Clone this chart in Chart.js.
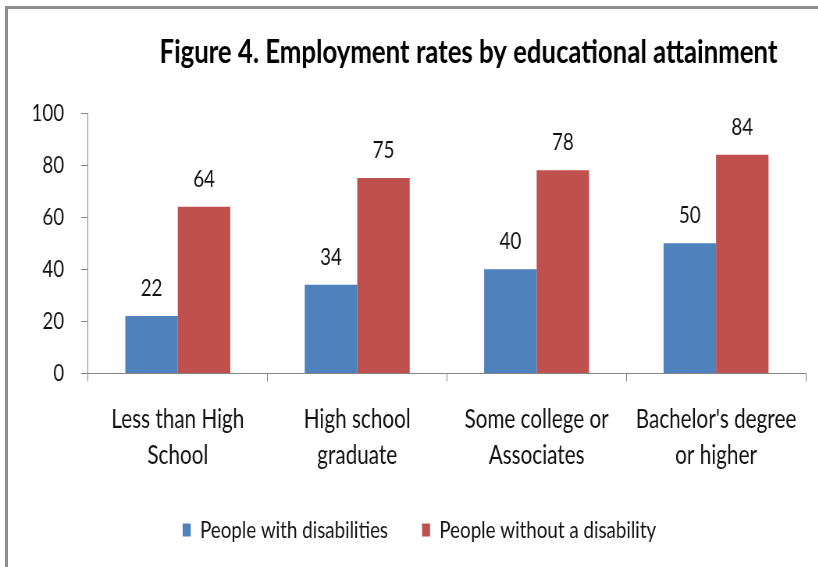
<!DOCTYPE html>
<html>
<head>
  <title>Employment rates by educational attainment</title>
  <script src="https://cdn.jsdelivr.net/npm/chart.js"></script>
  <style>
    html, body { margin: 0; padding: 0; background: #fff; overflow: hidden; }
    .frame { position: absolute; left: 5px; top: 6px; width: 900px; height: 700px; border: 3px solid #8f8f8f; }
    /* the original is a horizontally squashed Excel chart, so draw it wide and squeeze it */
    .wrap { position: absolute; left: 0; top: 0; height: 567px; transform-origin: 0 0; }
  </style>
</head>
<body>

<div class="frame"></div>
<div class="wrap" id="wrap"><canvas id="chart"></canvas></div>

<script>
const categories = [["Less than High", "School"], ["High school", "graduate"], ["Some college or", "Associates"], ["Bachelor's degree", "or higher"]];
const withDisab = [22, 34, 40, 50];
const withoutDisab = [64, 75, 78, 84];
const seriesNames = ["People with disabilities", "People without a disability"];
const yTicks = [0, 20, 40, 60, 80, 100];
const titleText = "Figure 4. Employment rates by educational attainment";

const SQ = 0.78;              // horizontal squeeze
const W = 818 / SQ;           // internal canvas width
const FONT = "Lato, 'Open Sans', sans-serif";
const AXIS = "#868686";

const wrap = document.getElementById("wrap");
wrap.style.width = W + "px";
wrap.style.transform = "scaleX(" + SQ + ")";

const titlePlugin = {
  id: "titleText",
  afterDraw(chart) {
    const ctx = chart.ctx;
    ctx.save();
    ctx.font = "bold 33px " + FONT;
    ctx.fillStyle = "#000";
    ctx.textAlign = "center";
    ctx.textBaseline = "alphabetic";
    ctx.fillText(titleText, 468 / SQ, 63);
    ctx.restore();
  }
};

const valueLabels = {
  id: "valueLabels",
  afterDatasetsDraw(chart) {
    const ctx = chart.ctx;
    ctx.save();
    ctx.font = "24px " + FONT;
    ctx.fillStyle = "#111";
    ctx.textAlign = "center";
    ctx.textBaseline = "alphabetic";
    chart.data.datasets.forEach((ds, i) => {
      chart.getDatasetMeta(i).data.forEach((bar, j) => {
        ctx.fillText(ds.data[j], bar.x, bar.y - 20);
      });
    });
    ctx.restore();
  }
};

new Chart(document.getElementById("chart"), {
  type: "bar",
  data: {
    labels: categories,
    datasets: [
      { label: seriesNames[0], data: withDisab, backgroundColor: "#4F81BD" },
      { label: seriesNames[1], data: withoutDisab, backgroundColor: "#C0504D" }
    ]
  },
  options: {
    responsive: true,
    maintainAspectRatio: false,
    animation: false,
    categoryPercentage: 0.585,
    barPercentage: 1.0,
    layout: { padding: { left: 33 / SQ, right: 13 / SQ, top: 113, bottom: 15 } },
    plugins: {
      title: { display: false },
      tooltip: { enabled: false },
      legend: {
        position: "bottom",
        labels: {
          boxWidth: 8 / SQ, boxHeight: 13, padding: 34 / SQ,
          color: "#111",
          font: { family: FONT, size: 24 }
        }
      }
    },
    scales: {
      x: {
        grid: { drawOnChartArea: false, color: AXIS, tickLength: 8, offset: true },
        border: { color: AXIS, width: 1 },
        ticks: { color: "#111", padding: 20, autoSkip: false, maxRotation: 0, font: { family: FONT, size: 26.5, lineHeight: 1.36 } },
        afterFit(s) { s.height = 101; }
      },
      y: {
        min: 0, max: 100,
        afterBuildTicks(s) { s.ticks = yTicks.map(v => ({ value: v })); },
        grid: { drawOnChartArea: false, color: AXIS, tickLength: 7 / SQ },
        border: { color: AXIS, width: 1 },
        ticks: { color: "#111", padding: 17 / SQ, font: { family: FONT, size: 24 } },
        afterFit(s) { s.width = 55 / SQ; }
      }
    }
  },
  plugins: [titlePlugin, valueLabels]
});
</script>
</body>
</html>
